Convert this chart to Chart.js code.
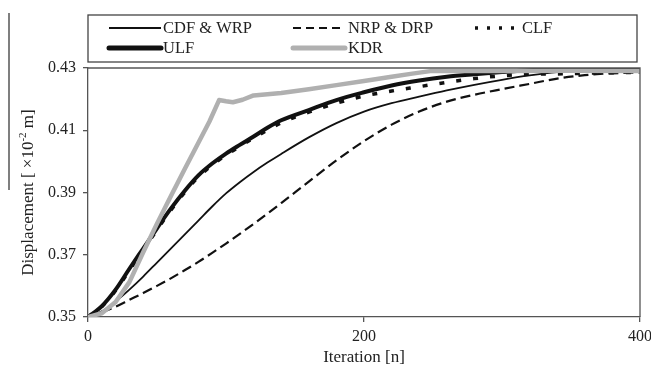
<!DOCTYPE html>
<html>
<head>
<meta charset="utf-8">
<script src="https://cdn.jsdelivr.net/npm/chart.js@4/dist/chart.umd.min.js"></script>
<style>
html,body{margin:0;padding:0;background:#fff;}
#wrap{width:651px;height:365px;position:relative;overflow:hidden;}
</style>
</head>
<body>
<div id="wrap"><canvas id="c" width="651" height="365"></canvas></div>
<script>
// ---- data ----
const iterations = [0,10,20,30,40,50,60,70,80,90,100,110,120,130,140,160,180,200,220,240,260,280,300,320,340,360,380,400];
const cdfWrp = [0.3500,0.3518,0.3550,0.3588,0.3630,0.3675,0.3720,0.3765,0.3810,0.3855,0.3897,0.3933,0.3966,0.3996,0.4024,0.4077,0.4123,0.4160,0.4187,0.4208,0.4228,0.4246,0.4262,0.4276,0.4287,0.4293,0.4296,0.4297];
const nrpDrp = [0.3500,0.3515,0.3533,0.3555,0.3577,0.3600,0.3624,0.3650,0.3677,0.3706,0.3736,0.3767,0.3799,0.3832,0.3866,0.3935,0.4003,0.4065,0.4118,0.4160,0.4192,0.4214,0.4232,0.4249,0.4266,0.4277,0.4283,0.4286];
const clf    = [0.3500,0.3533,0.3585,0.3650,0.3715,0.3780,0.3843,0.3900,0.3950,0.3988,0.4020,0.4048,0.4075,0.4100,0.4124,0.4158,0.4187,0.4210,0.4226,0.4240,0.4254,0.4266,0.4275,0.4280,0.4281,0.4283,0.4285,0.4286];
const ulf    = [0.3500,0.3535,0.3588,0.3655,0.3720,0.3785,0.3848,0.3905,0.3955,0.3993,0.4025,0.4053,0.4080,0.4108,0.4132,0.4165,0.4197,0.4222,0.4244,0.4260,0.4272,0.4280,0.4287,0.4293,0.4296,0.4297,0.4297,0.4297];
const kdrIterations = [0,10,20,30,40,50,60,70,80,88,95,100,105,112,120,130,140,160,180,200,220,235,248,300,350,400];
const kdr    = [0.3500,0.3512,0.3548,0.3612,0.3708,0.3800,0.3888,0.3975,0.4060,0.4128,0.4197,0.4193,0.4190,0.4198,0.4212,0.4216,0.4220,0.4232,0.4245,0.4258,0.4272,0.4282,0.4290,0.4290,0.4291,0.4290];
const xTicks = [0,200,400];
const yTicks = [0.35,0.37,0.39,0.41,0.43];
const seriesNames = ['CDF & WRP','NRP & DRP','CLF','ULF','KDR'];
const xTitle = 'Iteration [n]';
const yTitleMain = 'Displacement [ ×10';
const yTitleSup = '-2';
const yTitleEnd = ' m]';

const FONT = '"Liberation Serif","Times New Roman",serif';
const BLACK = '#111111';
const GRAY = '#b0b0b0';
const AXIS = '#555555';

function pts(xs, ys){ return xs.map((x,i)=>({x:x,y:ys[i]})); }

const styles = {
  'CDF & WRP': {color:BLACK, width:1.8, dash:[], legendWidth:2, legendDash:[], cap:'butt'},
  'NRP & DRP': {color:BLACK, width:2.2, dash:[10,5], legendWidth:2, legendDash:[8,5], cap:'butt'},
  'CLF':       {color:BLACK, width:3.5, dash:[5,12], legendWidth:3.5, legendDash:[3,9], cap:'butt'},
  'ULF':       {color:BLACK, width:4, dash:[], legendWidth:5, legendDash:[], cap:'round'},
  'KDR':       {color:GRAY, width:4.5, dash:[], legendWidth:5, legendDash:[], cap:'round'}
};

function ds(name, data, smooth){
  const s = styles[name];
  return {label:name, data:data, borderColor:s.color, backgroundColor:s.color, borderWidth:s.width,
    borderDash:s.dash, pointRadius:0, fill:false, tension: smooth?0.4:0,
    cubicInterpolationMode: smooth?'monotone':'default', borderCapStyle:'butt', borderJoinStyle:'round'};
}

const datasets = [
  ds('KDR', pts(kdrIterations, kdr), false),
  ds('ULF', pts(iterations, ulf), true),
  ds('CLF', pts(iterations, clf), true),
  ds('CDF & WRP', pts(iterations, cdfWrp), true),
  ds('NRP & DRP', pts(iterations, nrpDrp), true)
];

const decor = {
  id:'decor',
  afterDraw(chart){
    const ctx = chart.ctx, a = chart.chartArea;
    ctx.save();
    // top and right frame
    ctx.strokeStyle = AXIS; ctx.lineWidth = 1.3; ctx.setLineDash([]);
    ctx.beginPath();
    ctx.moveTo(a.left, a.top); ctx.lineTo(a.right, a.top); ctx.lineTo(a.right, a.bottom);
    ctx.stroke();
    // stray vertical rule at the far left
    ctx.lineWidth = 1.5;
    ctx.beginPath(); ctx.moveTo(9, 13); ctx.lineTo(9, 190); ctx.stroke();
    // legend box
    ctx.strokeStyle = '#444'; ctx.lineWidth = 1.3;
    ctx.strokeRect(88, 15, 549, 47);
    const layout = [
      {name:seriesNames[0], x0:109, x1:161, tx:163, y:28},
      {name:seriesNames[1], x0:293, x1:345, tx:348, y:28},
      {name:seriesNames[2], x0:475, x1:514, tx:522, y:28},
      {name:seriesNames[3], x0:109, x1:161, tx:163, y:48},
      {name:seriesNames[4], x0:293, x1:345, tx:348, y:48}
    ];
    ctx.font = '16.5px ' + FONT;
    ctx.textBaseline = 'middle'; ctx.textAlign = 'left';
    layout.forEach(l=>{
      const s = styles[l.name];
      ctx.strokeStyle = s.color; ctx.lineWidth = s.legendWidth; ctx.lineCap = s.cap;
      ctx.setLineDash(s.legendDash);
      ctx.beginPath(); ctx.moveTo(l.x0, l.y); ctx.lineTo(l.x1, l.y); ctx.stroke();
      ctx.setLineDash([]); ctx.lineCap = 'butt';
      ctx.fillStyle = '#222';
      ctx.fillText(l.name, l.tx, l.y + 1);
    });
    // x title
    ctx.font = '17px ' + FONT; ctx.fillStyle = '#222';
    ctx.textAlign = 'center'; ctx.textBaseline = 'middle';
    ctx.fillText(xTitle, (a.left + a.right)/2, 358);
    // y title (rotated, with superscript)
    const mainFont = '17px ' + FONT, supFont = '11px ' + FONT;
    ctx.font = mainFont; const w1 = ctx.measureText(yTitleMain).width, w3 = ctx.measureText(yTitleEnd).width;
    ctx.font = supFont; const w2 = ctx.measureText(yTitleSup).width;
    const total = w1 + w2 + w3;
    ctx.translate(33, (a.top + a.bottom)/2);
    ctx.rotate(-Math.PI/2);
    ctx.textAlign = 'left'; ctx.textBaseline = 'alphabetic';
    let x = -total/2;
    ctx.font = mainFont; ctx.fillText(yTitleMain, x, 0); x += w1;
    ctx.font = supFont; ctx.fillText(yTitleSup, x, -7); x += w2;
    ctx.font = mainFont; ctx.fillText(yTitleEnd, x, 0);
    ctx.restore();
  }
};

new Chart(document.getElementById('c'), {
  type:'line',
  data:{datasets:datasets},
  options:{
    responsive:false, animation:false, devicePixelRatio:1,
    layout:{padding:{left:0, top:68, right:11, bottom:0}},
    plugins:{legend:{display:false}, tooltip:{enabled:false}, title:{display:false}},
    elements:{point:{radius:0}},
    scales:{
      x:{type:'linear', min:0, max:400,
        afterFit(s){ s.height = 48; s.paddingLeft = 0; s.paddingRight = 0; },
        afterBuildTicks(s){ s.ticks = xTicks.map(v=>({value:v})); },
        ticks:{font:{family:FONT, size:16}, color:'#222', padding:5, maxRotation:0, autoSkip:false},
        grid:{display:true, drawOnChartArea:false, drawTicks:true, tickLength:5, color:AXIS, lineWidth:1.3},
        border:{display:true, color:AXIS, width:1.3}},
      y:{type:'linear', min:0.35, max:0.43,
        afterFit(s){ s.width = 88; s.paddingTop = 0; s.paddingBottom = 0; },
        afterBuildTicks(s){ s.ticks = yTicks.map(v=>({value:v})); },
        ticks:{font:{family:FONT, size:16}, color:'#222', padding:7, callback:v=>Number(v).toFixed(2)},
        grid:{display:true, drawOnChartArea:false, drawTicks:true, tickLength:5, color:AXIS, lineWidth:1.3},
        border:{display:true, color:AXIS, width:1.3}}
    }
  },
  plugins:[decor]
});
</script>
</body>
</html>
